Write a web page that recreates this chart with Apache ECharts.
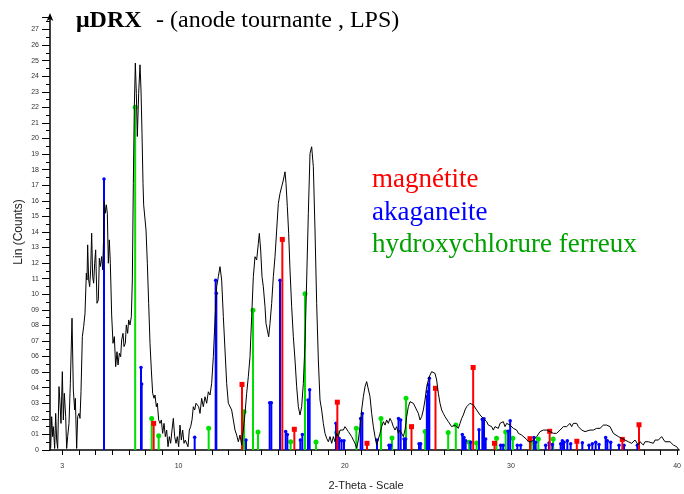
<!DOCTYPE html>
<html><head><meta charset="utf-8">
<script src="https://cdn.jsdelivr.net/npm/echarts@6/dist/echarts.min.js"></script>
<style>html,body{margin:0;padding:0;background:#fff}#c{width:684px;height:494px}</style>
</head><body><div id="c"></div>
<script>
// ---- measured pattern (2-theta, Lin counts) ----
const twoTheta = [
2.30,2.36,2.42,2.46,2.54,2.60,2.66,2.72,2.80,2.86,2.92,3.00,3.06,3.12,3.20,3.26,3.32,3.40,3.48,3.58,
3.66,3.74,3.78,3.86,3.92,4.00,4.06,4.12,4.20,4.28,4.36,4.44,4.48,4.52,4.58,4.64,4.70,4.76,4.82,4.88,
4.94,5.00,5.08,5.16,5.22,5.28,5.36,5.42,5.48,5.52,5.58,5.64,5.70,5.76,5.82,5.88,5.96,6.04,6.12,6.20,
6.28,6.34,6.42,6.50,6.56,6.64,6.70,6.78,6.84,6.92,6.98,7.06,7.14,7.20,7.26,7.32,7.38,7.44,7.50,7.58,
7.66,7.72,7.78,7.84,7.88,7.94,8.02,8.10,8.18,8.26,8.34,8.42,8.50,8.56,8.64,8.70,8.78,8.86,8.94,9.02,
9.10,9.18,9.26,9.34,9.42,9.50,9.58,9.66,9.74,9.82,9.90,9.98,10.06,10.14,10.22,10.30,10.38,10.46,10.54,10.62,
10.70,10.78,10.86,10.94,11.02,11.10,11.18,11.26,11.36,11.46,11.56,11.66,11.76,11.86,11.96,12.06,12.16,12.26,12.36,12.46,
12.56,12.66,12.76,12.86,12.96,13.06,13.16,13.26,13.36,13.46,13.56,13.66,13.76,13.86,13.96,14.06,14.16,14.26,14.36,14.46,
14.56,14.66,14.76,14.82,14.90,14.98,15.06,15.16,15.22,15.30,15.38,15.46,15.56,15.66,15.76,15.86,15.96,16.06,16.16,16.26,
16.36,16.42,16.50,16.58,16.66,16.76,16.86,16.96,17.06,17.16,17.26,17.36,17.46,17.56,17.66,17.76,17.86,17.96,18.06,18.16,
18.26,18.36,18.46,18.56,18.66,18.76,18.86,18.96,19.06,19.16,19.26,19.36,19.46,19.56,19.66,19.76,19.86,19.96,20.06,20.16,
20.26,20.36,20.46,20.56,20.66,20.76,20.86,20.96,21.06,21.16,21.26,21.36,21.46,21.56,21.66,21.76,21.86,21.96,22.06,22.16,
22.26,22.36,22.46,22.56,22.66,22.76,22.86,22.96,23.06,23.16,23.26,23.36,23.46,23.56,23.66,23.76,23.86,23.96,24.06,24.16,
24.26,24.36,24.46,24.56,24.66,24.76,24.86,24.96,25.06,25.16,25.26,25.36,25.46,25.56,25.66,25.76,25.86,25.96,26.06,26.16,
26.26,26.36,26.46,26.56,26.66,26.76,26.86,26.96,27.06,27.16,27.26,27.36,27.46,27.56,27.66,27.76,27.86,27.96,28.06,28.16,
28.26,28.36,28.46,28.56,28.66,28.76,28.86,28.96,29.06,29.16,29.26,29.46,29.56,29.66,29.86,30.06,30.26,30.36,30.56,30.66,
30.86,30.96,31.06,31.16,31.26,31.46,31.56,31.66,31.86,31.96,32.06,32.16,32.26,32.46,32.56,32.66,32.86,33.06,33.16,33.26,
33.36,33.46,33.56,33.66,33.76,33.86,33.96,34.06,34.16,34.36,34.46,34.66,34.86,35.06,35.26,35.46,35.66,35.76,35.86,36.06,
36.16,36.36,36.46,36.76,36.86,36.96,37.06,37.16,37.36,37.56,37.66,37.86,37.96,38.16,38.26,38.46,38.56,38.76,38.86,38.96,
39.06,39.16,39.26,39.46,39.66,39.86,40.00
];
const counts = [
0.1,2.14,0.86,1.5,0.1,2.35,0.64,0.1,4.07,3.0,1.71,5.03,1.93,3.64,2.14,0.1,0.86,1.71,4.28,8.46,
3.85,2.57,3.32,0.1,2.14,2.35,2.03,3.75,7.28,7.92,8.78,11.35,10.92,13.17,10.92,10.49,11.56,13.92,11.13,10.71,
11.99,12.85,9.42,9.64,12.31,11.78,12.42,11.56,13.7,15.95,15.2,15.74,15.2,11.99,13.49,11.99,8.67,6.85,7.28,5.35,
6.31,5.46,6.21,5.99,7.07,7.49,6.64,6.85,8.03,7.49,8.35,8.03,8.56,10.92,17.13,22.05,24.84,22.9,20.13,22.9,
24.73,23.12,20.34,17.13,15.74,15.63,14.13,11.99,9.42,6.85,5.14,3.64,3.32,3.53,2.78,3.0,1.93,1.71,1.93,1.07,
1.71,0.86,1.28,0.21,0.86,0.43,1.28,2.03,0.86,0.43,0.86,0.21,1.6,0.64,1.28,0.43,0.64,0.53,0.21,1.28,
1.5,1.93,2.78,2.57,3.0,3.1,2.78,2.35,3.32,2.78,3.42,3.0,3.74,3.53,4.28,5.99,8.34,10.48,11.13,11.77,
10.91,8.56,6.42,4.28,3.0,2.89,2.57,1.93,1.28,0.96,0.53,0.96,0.32,1.28,2.35,3.64,4.71,5.99,8.56,11.13,
12.41,12.2,13.26,13.91,12.84,11.13,10.48,9.2,8.13,7.7,7.27,8.13,9.41,11.13,12.41,14.12,15.83,16.47,16.9,17.33,
17.86,17.12,15.62,13.91,11.55,9.2,7.27,5.78,4.06,2.78,2.25,2.78,4.28,6.85,10.91,15.19,19.04,19.47,18.19,14.12,
9.41,5.78,3.21,2.57,1.71,1.07,0.75,0.53,0.86,0.43,0.86,0.53,1.07,0.86,1.28,1.39,1.28,1.5,1.39,1.18,
1.07,0.86,0.64,0.43,0.11,0.64,1.5,2.57,3.42,4.06,4.39,4.28,3.42,2.35,1.5,0.86,0.32,0.21,1.07,1.5,
1.82,1.6,1.93,1.71,2.03,1.82,1.5,1.28,1.5,1.07,1.28,1.39,0.86,1.28,2.14,2.78,3.1,3.21,3.0,3.1,
2.57,2.35,1.93,2.14,2.57,3.21,4.06,4.49,4.81,5.03,5.13,4.92,4.49,3.64,3.0,2.57,2.35,2.14,2.03,1.82,
1.71,1.5,1.39,1.6,1.5,1.39,1.71,2.03,2.25,2.57,2.78,2.89,3.0,3.1,2.89,2.78,2.57,2.46,2.25,2.14,
2.03,1.93,1.82,1.6,1.71,1.5,1.28,1.5,1.6,1.39,1.71,1.82,1.5,1.71,1.6,1.39,1.28,1.07,0.96,0.86,
0.68,0.53,0.43,0.53,0.64,0.86,0.96,1.18,1.28,1.39,1.28,1.39,1.18,1.07,0.96,1.07,1.28,1.5,1.6,1.5,
1.6,1.71,1.5,1.71,1.6,1.71,1.5,1.6,1.28,1.18,1.07,1.28,1.28,1.39,1.39,1.6,1.6,1.71,1.5,1.07,
0.96,0.86,0.75,0.64,0.75,0.53,0.64,0.43,0.64,0.32,0.53,0.32,0.53,0.53,0.43,0.43,0.64,0.64,0.75,0.86,
0.75,0.53,0.64,0.53,0.32,0.21,0.0
];

// ---- reference sticks ----
const magnetiteX = [8.48,13.78,16.2,16.92,19.5,21.28,23.95,25.39,27.65,28.93,31.06,32.24,33.87,36.6,37.6];
const magnetiteY = [1.71,4.21,13.52,1.33,3.07,0.43,1.5,3.96,5.3,0.43,0.73,1.2,0.56,0.68,1.62];

const akaganeiteX = [5.5,7.72,7.76,10.94,12.2,12.24,14.02,15.44,15.54,16.06,16.4,16.5,17.28,17.4,17.74,17.84,
  19.42,19.6,19.75,19.9,20.9,21.0,21.88,22.6,22.7,23.17,23.3,23.5,23.6,24.4,24.5,24.87,24.92,24.97,25.02,
  27.0,27.1,27.2,27.5,28.0,28.2,28.3,28.4,29.3,29.45,29.75,29.87,30.3,30.5,31.3,31.4,32.0,32.2,32.4,
  32.9,33.0,33.1,33.3,33.5,34.2,34.6,34.8,35.0,35.2,35.6,35.7,35.9,36.4,36.7,37.5];
const akaganeiteY = [17.4,5.3,4.24,0.82,10.9,10.06,0.64,3.04,3.04,10.9,1.18,1.0,0.64,1.0,3.21,3.87,
  1.71,0.75,0.6,0.6,2.03,2.35,0.64,0.3,0.3,2.03,1.92,0.7,0.7,0.4,0.4,3.42,3.74,4.17,4.6,
  1.0,0.8,0.6,0.5,1.3,1.97,2.0,0.7,0.3,0.3,1.2,1.88,0.3,0.3,0.8,0.5,0.3,0.45,0.35,
  0.4,0.6,0.5,0.6,0.4,0.47,0.3,0.4,0.5,0.35,0.8,0.6,0.5,0.3,0.3,0.3];

const hydroxyX = [7.37,8.36,8.78,11.78,13.9,14.44,14.74,16.7,17.56,18.22,19.46,20.64,22.12,22.78,23.62,
  24.77,26.15,26.61,27.41,27.86,29.05,29.6,30.03,31.16,31.56,32.45];
const hydroxyY = [22.0,2.03,0.92,1.39,2.46,8.97,1.16,0.53,10.03,0.51,1.12,1.39,2.03,0.77,3.32,
  1.18,1.13,1.6,0.5,0.45,0.75,1.16,0.75,0.49,0.7,0.7];

const xTickLabels = [3, 10, 20, 30, 40];
const phaseNames = ['magnétite', 'akaganeite', 'hydroxychlorure ferreux'];

// ---- chart ----
const chart = echarts.init(document.getElementById('c'), null, {renderer: 'canvas'});
function pairs(xs, ys) { return xs.map((x, i) => [x, ys[i]]); }
function stickSeries(name, xs, ys, color, shape, size) {
  return {
    type: 'custom', name: name, xAxisIndex: 0, yAxisIndex: 0,
    data: pairs(xs, ys), encode: {x: 0, y: 1}, clip: false,
    renderItem: function (params, api) {
      const x = api.value(0), y = api.value(1);
      const p = api.coord([x, y]);
      const b = api.coord([x, 0]);
      const mk = shape === 'rect'
        ? {type: 'rect', shape: {x: p[0] - size / 2, y: p[1] - size / 2, width: size, height: size}, style: {fill: color}}
        : {type: 'circle', shape: {cx: p[0], cy: p[1], r: size / 2}, style: {fill: color}};
      return {type: 'group', children: [
        {type: 'line', shape: {x1: b[0], y1: b[1], x2: p[0], y2: p[1]}, style: {stroke: color, lineWidth: 2}},
        mk
      ]};
    }
  };
}
const sansFont = '"Liberation Sans", Arial, sans-serif';
const serifFont = '"Liberation Serif", "Times New Roman", serif';

chart.setOption({
  animation: false,
  backgroundColor: '#fff',
  grid: [
    {left: 50, right: 5, top: 17, bottom: 44},
    {left: 62.3, right: 5, top: 17, bottom: 44}
  ],
  xAxis: [
    {type: 'value', gridIndex: 0, min: 2.26, max: 40,
     axisLine: {show: true, lineStyle: {color: '#000', width: 1.5}},
     axisTick: {show: false}, axisLabel: {show: false}, splitLine: {show: false}},
    {type: 'value', gridIndex: 1, min: 3, max: 40, interval: 1,
     axisLine: {show: false},
     axisTick: {show: true, length: 5, lineStyle: {color: '#000', width: 1}},
     axisLabel: {show: true, fontSize: 7, color: '#333', fontFamily: sansFont, margin: 13,
       formatter: v => xTickLabels.indexOf(v) >= 0 ? String(v) : ''},
     splitLine: {show: false}}
  ],
  yAxis: [
    {type: 'value', gridIndex: 0, min: 0, max: 27.8, interval: 1,
     axisLine: {show: true, lineStyle: {color: '#000', width: 1.5}, symbol: ['none', 'arrow'], symbolSize: [5, 8], symbolOffset: [0, 4]},
     axisTick: {show: true, length: 8, lineStyle: {color: '#000', width: 1}},
     minorTick: {show: true, splitNumber: 2, length: 4, lineStyle: {color: '#000', width: 1}},
     axisLabel: {show: true, fontSize: 7, color: '#333', fontFamily: sansFont, margin: 11,
       formatter: v => v === 0 ? '0' : (v > 27 ? '' : (v < 10 ? '0' + v : String(v)))},
     splitLine: {show: false}},
    {type: 'value', gridIndex: 1, show: false, min: 0, max: 27.8}
  ],
  series: [
    stickSeries(phaseNames[2], hydroxyX, hydroxyY, '#00e000', 'circle', 5),
    stickSeries(phaseNames[1], akaganeiteX, akaganeiteY, '#0000ff', 'circle', 3.5),
    stickSeries(phaseNames[0], magnetiteX, magnetiteY, '#ff0000', 'rect', 5),
    {type: 'line', name: 'pattern', xAxisIndex: 0, yAxisIndex: 0,
     data: pairs(twoTheta, counts), showSymbol: false, symbol: 'none',
     lineStyle: {color: '#000', width: 1}}
  ],
  graphic: [
    {type: 'text', x: 76, y: 20.5, style: {text: 'μDRX', font: 'bold 24px ' + serifFont, fill: '#000', align: 'left', verticalAlign: 'middle', textAlign: 'left', textVerticalAlign: 'middle'}},
    {type: 'text', x: 156, y: 20.5, style: {text: '- (anode tournante , LPS)', font: '24px ' + serifFont, fill: '#000', align: 'left', verticalAlign: 'middle', textAlign: 'left', textVerticalAlign: 'middle'}},
    {type: 'text', x: 372, y: 180, style: {text: phaseNames[0], font: '27px ' + serifFont, fill: '#ff0000', align: 'left', verticalAlign: 'middle', textAlign: 'left', textVerticalAlign: 'middle'}},
    {type: 'text', x: 372, y: 213, style: {text: phaseNames[1], font: '27px ' + serifFont, fill: '#0000ff', align: 'left', verticalAlign: 'middle', textAlign: 'left', textVerticalAlign: 'middle'}},
    {type: 'text', x: 372, y: 245, style: {text: phaseNames[2], font: '27px ' + serifFont, fill: '#00a000', align: 'left', verticalAlign: 'middle', textAlign: 'left', textVerticalAlign: 'middle'}},
    {type: 'text', x: 366, y: 486, style: {text: '2-Theta - Scale', font: '11px ' + sansFont, fill: '#222', align: 'center', verticalAlign: 'middle', textAlign: 'center', textVerticalAlign: 'middle'}},
    {type: 'text', x: 19, y: 232, rotation: Math.PI / 2, style: {text: 'Lin (Counts)', font: '12px ' + sansFont, fill: '#222', align: 'center', verticalAlign: 'middle', textAlign: 'center', textVerticalAlign: 'middle'}}
  ]
});
</script>
</body></html>
